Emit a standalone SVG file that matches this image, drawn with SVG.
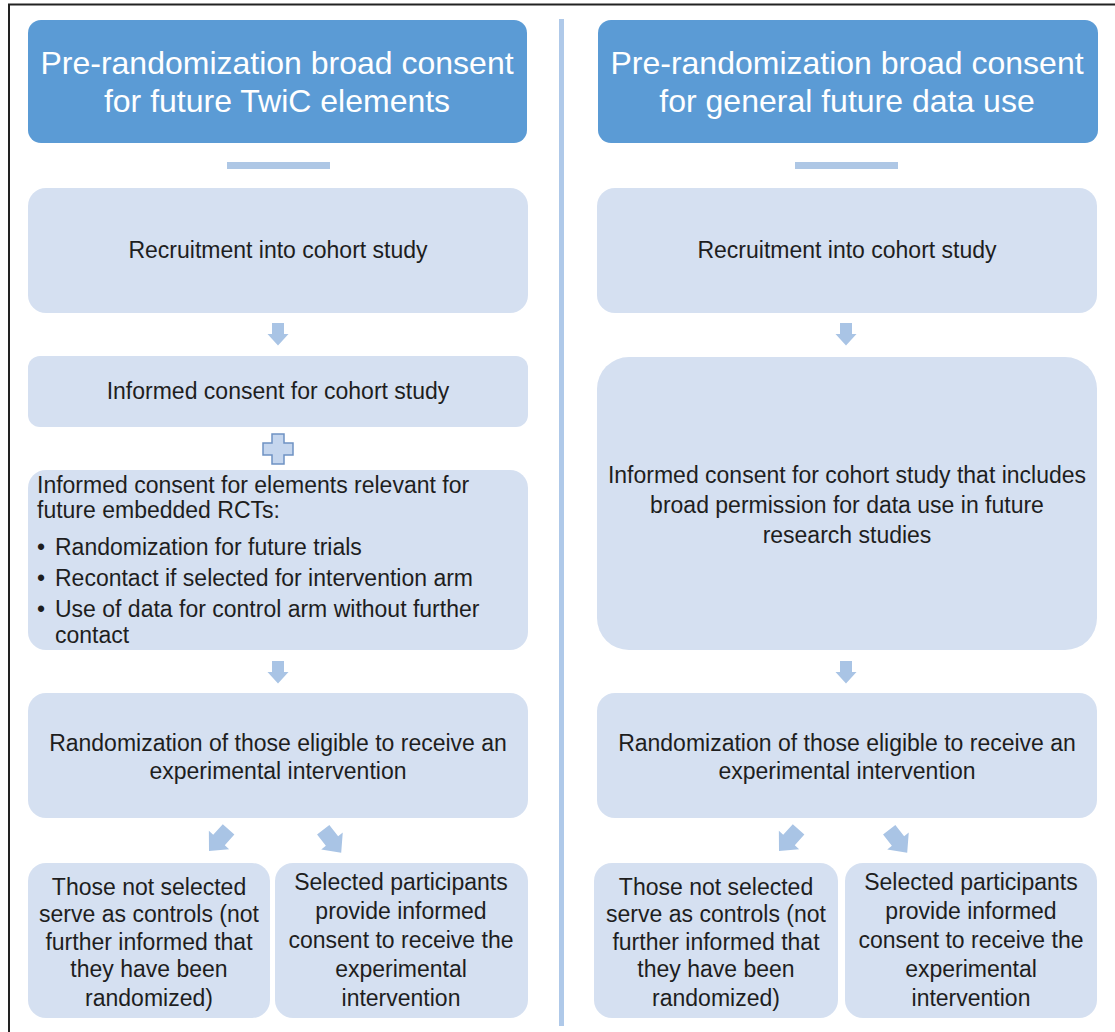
<svg xmlns="http://www.w3.org/2000/svg" width="1115" height="1032" viewBox="0 0 1115 1032">
<defs>
<style>
.hdr{fill:#5b9bd5}
.box{fill:#d5e0f1}
.ht{font-family:"Liberation Sans",Arial,sans-serif;font-size:32px;fill:#ffffff;text-anchor:middle}
.bt{font-family:"Liberation Sans",Arial,sans-serif;font-size:23px;fill:#1e1e1e;text-anchor:middle}
.bl{font-family:"Liberation Sans",Arial,sans-serif;font-size:23px;fill:#1e1e1e}
.arr{fill:#a9c4e5}
.bar{fill:#aec7e5}
</style>
<path id="ar" d="M-6,-11 H6 V0 H10.5 L0,11.5 L-10.5,0 H-6 Z"/>
</defs>
<rect width="1115" height="1032" fill="#ffffff"/>
<line x1="9" y1="4" x2="9" y2="1032" stroke="#222" stroke-width="2"/>
<line x1="8" y1="4.5" x2="1115" y2="4.5" stroke="#222" stroke-width="2"/>
<rect x="559" y="19" width="5" height="1007" fill="#afc9e9"/>

<g id="header-left">
<rect class="hdr" x="28" y="20" width="499" height="123" rx="13"/>
<text class="ht" x="277" y="74">Pre-randomization broad consent</text>
<text class="ht" x="277" y="112">for future TwiC elements</text>
</g>
<g id="header-right">
<rect class="hdr" x="598" y="20" width="500" height="123" rx="13"/>
<text class="ht" x="847" y="74">Pre-randomization broad consent</text>
<text class="ht" x="847" y="112">for general future data use</text>
</g>

<g id="L-recruit">
<rect class="box" x="28" y="188" width="500" height="125" rx="18"/>
<text class="bt" x="278" y="258">Recruitment into cohort study</text>
</g>
<g id="L-consent">
<rect class="box" x="28" y="356" width="500" height="71" rx="12"/>
<text class="bt" x="278" y="399">Informed consent for cohort study</text>
</g>
<g id="L-plus">
<path d="M272,434 H284 V443 H293 V455 H284 V464 H272 V455 H263 V443 H272 Z" fill="#c5d6ee" stroke="#6f92c3" stroke-width="1.5"/>
</g>
<g id="L-elements">
<rect class="box" x="28" y="470" width="500" height="180" rx="18"/>
<text class="bl" x="37" y="493">Informed consent for elements relevant for</text>
<text class="bl" x="37" y="518">future embedded RCTs:</text>
<text class="bl" x="37" y="555">•</text><text class="bl" x="55" y="555">Randomization for future trials</text>
<text class="bl" x="37" y="586">•</text><text class="bl" x="55" y="586">Recontact if selected for intervention arm</text>
<text class="bl" x="37" y="617">•</text><text class="bl" x="55" y="617">Use of data for control arm without further</text>
<text class="bl" x="55" y="643">contact</text>
</g>
<g id="L-random">
<rect class="box" x="28" y="693" width="500" height="125" rx="18"/>
<text class="bt" x="278" y="751">Randomization of those eligible to receive an</text>
<text class="bt" x="278" y="779">experimental intervention</text>
</g>
<g id="L-controls">
<rect class="box" x="28" y="863" width="242" height="155" rx="18"/>
<text class="bt" x="149" y="895">Those not selected</text>
<text class="bt" x="149" y="922">serve as controls (not</text>
<text class="bt" x="149" y="950">further informed that</text>
<text class="bt" x="149" y="977">they have been</text>
<text class="bt" x="149" y="1006">randomized)</text>
</g>
<g id="L-selected">
<rect class="box" x="275" y="863" width="253" height="155" rx="18"/>
<text class="bt" x="401" y="890">Selected participants</text>
<text class="bt" x="401" y="919">provide informed</text>
<text class="bt" x="401" y="948">consent to receive the</text>
<text class="bt" x="401" y="977">experimental</text>
<text class="bt" x="401" y="1006">intervention</text>
</g>

<g id="R-recruit">
<rect class="box" x="597" y="188" width="500" height="125" rx="18"/>
<text class="bt" x="847" y="258">Recruitment into cohort study</text>
</g>
<g id="R-consent">
<rect class="box" x="597" y="357" width="500" height="293" rx="32"/>
<text class="bt" x="847" y="483">Informed consent for cohort study that includes</text>
<text class="bt" x="847" y="513">broad permission for data use in future</text>
<text class="bt" x="847" y="543">research studies</text>
</g>
<g id="R-random">
<rect class="box" x="597" y="693" width="500" height="125" rx="18"/>
<text class="bt" x="847" y="751">Randomization of those eligible to receive an</text>
<text class="bt" x="847" y="779">experimental intervention</text>
</g>
<g id="R-controls">
<rect class="box" x="594" y="863" width="244" height="155" rx="18"/>
<text class="bt" x="716" y="895">Those not selected</text>
<text class="bt" x="716" y="922">serve as controls (not</text>
<text class="bt" x="716" y="950">further informed that</text>
<text class="bt" x="716" y="977">they have been</text>
<text class="bt" x="716" y="1006">randomized)</text>
</g>
<g id="R-selected">
<rect class="box" x="845" y="863" width="252" height="155" rx="18"/>
<text class="bt" x="971" y="890">Selected participants</text>
<text class="bt" x="971" y="919">provide informed</text>
<text class="bt" x="971" y="948">consent to receive the</text>
<text class="bt" x="971" y="977">experimental</text>
<text class="bt" x="971" y="1006">intervention</text>
</g>

<g id="connectors">
<rect class="bar" x="227" y="162" width="103" height="7"/>
<rect class="bar" x="795" y="162" width="103" height="7"/>
<use href="#ar" class="arr" transform="translate(278,334)"/>
<use href="#ar" class="arr" transform="translate(278,672)"/>
<use href="#ar" class="arr" transform="translate(219,840) rotate(42) scale(1.3)"/>
<use href="#ar" class="arr" transform="translate(332,841) rotate(-38) scale(1.3)"/>
<use href="#ar" class="arr" transform="translate(846,334)"/>
<use href="#ar" class="arr" transform="translate(846,672)"/>
<use href="#ar" class="arr" transform="translate(789,840) rotate(42) scale(1.3)"/>
<use href="#ar" class="arr" transform="translate(898,841) rotate(-38) scale(1.3)"/>
</g>
</svg>
